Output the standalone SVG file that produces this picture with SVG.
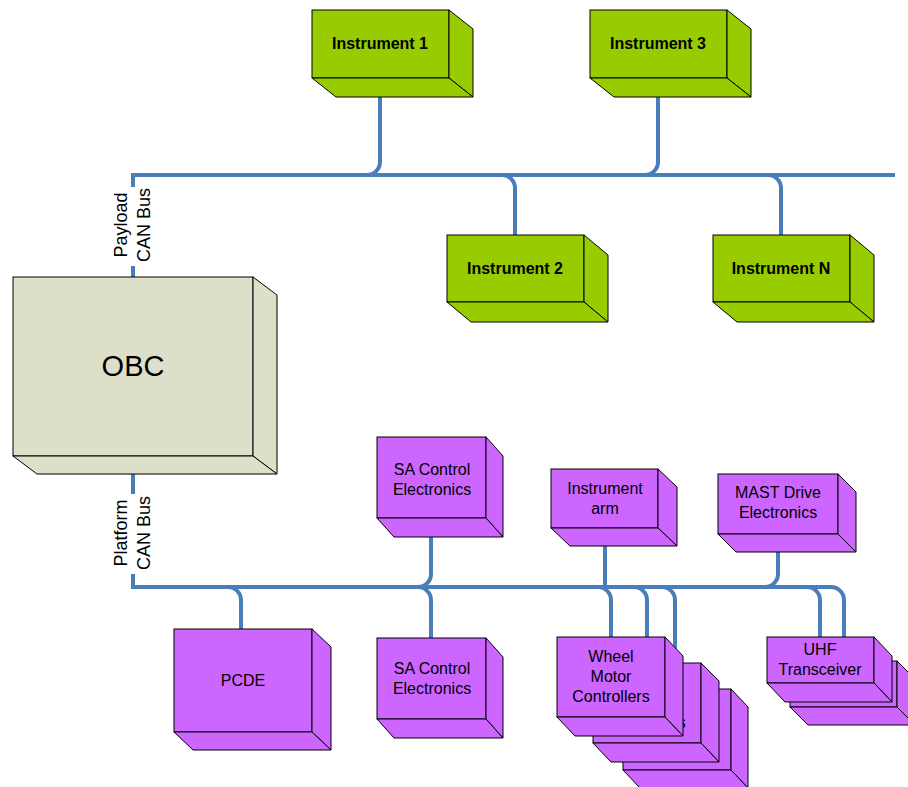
<svg xmlns="http://www.w3.org/2000/svg" width="908" height="787" viewBox="0 0 908 787">
<style>
.bus{fill:none;stroke:#4a7ebb;stroke-width:4}
.g{fill:#99cc00;stroke:#000;stroke-width:1}
.p{fill:#cc66ff;stroke:#000;stroke-width:1}
.o{fill:#dddfc9;stroke:#000;stroke-width:1}
.t{font-family:"Liberation Sans",Arial,sans-serif;font-size:16px;fill:#000;text-anchor:middle}
.tb{font-family:"Liberation Sans",Arial,sans-serif;font-size:16px;font-weight:bold;fill:#000;text-anchor:middle}
.lbl{font-family:"Liberation Sans",Arial,sans-serif;font-size:18px;fill:#000;text-anchor:middle}
</style>
<rect width="908" height="787" fill="#fff"/>
<g id="connectors">
<path class="bus" d="M133,187 V175 H895"/>
<path class="bus" d="M133,266 V277"/>
<path class="bus" d="M380,78 V162 A13,13 0 0 1 367,175"/>
<path class="bus" d="M658,78 V162 A13,13 0 0 1 645,175"/>
<path class="bus" d="M502,175 A13,13 0 0 1 515,188 V235"/>
<path class="bus" d="M768,175 A13,13 0 0 1 781,188 V235"/>
<path class="bus" d="M133,474 V494"/>
<path class="bus" d="M133,574 V587 H831"/>
<path class="bus" d="M228,587 A13,13 0 0 1 241,600 V629"/>
<path class="bus" d="M431,518 V574 A13,13 0 0 1 418,587"/>
<path class="bus" d="M418,587 A13,13 0 0 1 431,600 V638"/>
<path class="bus" d="M605,528 V587"/>
<path class="bus" d="M598,587 A13,13 0 0 1 611,600 V637"/>
<path class="bus" d="M634,587 A13,13 0 0 1 647,600 V663"/>
<path class="bus" d="M662,587 A13,13 0 0 1 675,600 V689"/>
<path class="bus" d="M778,534 V574 A13,13 0 0 1 765,587"/>
<path class="bus" d="M807,587 A13,13 0 0 1 820,600 V637"/>
<path class="bus" d="M831,587 A13,13 0 0 1 844,600 V637"/>
</g>
<g id="payload-label">
<text class="lbl" transform="translate(127,225) rotate(-90)">Payload</text>
<text class="lbl" transform="translate(150,225) rotate(-90)">CAN Bus</text>
</g>
<g id="platform-label">
<text class="lbl" transform="translate(127,533) rotate(-90)">Platform</text>
<text class="lbl" transform="translate(150,533) rotate(-90)">CAN Bus</text>
</g>
<g id="instrument1">
<rect class="g" x="312" y="10" width="137" height="68"/>
<polygon class="g" points="449,10 473,29 473,97 449,78"/>
<polygon class="g" points="312,78 449,78 473,97 336,97"/>
<text class="tb" x="380" y="49">Instrument 1</text>
</g>
<g id="instrument3">
<rect class="g" x="590" y="10" width="137" height="68"/>
<polygon class="g" points="727,10 751,29 751,97 727,78"/>
<polygon class="g" points="590,78 727,78 751,97 614,97"/>
<text class="tb" x="658" y="49">Instrument 3</text>
</g>
<g id="instrument2">
<rect class="g" x="447" y="235" width="137" height="67"/>
<polygon class="g" points="584,235 608,255 608,322 584,302"/>
<polygon class="g" points="447,302 584,302 608,322 471,322"/>
<text class="tb" x="515" y="274">Instrument 2</text>
</g>
<g id="instrumentN">
<rect class="g" x="713" y="235" width="137" height="67"/>
<polygon class="g" points="850,235 874,255 874,322 850,302"/>
<polygon class="g" points="713,302 850,302 874,322 737,322"/>
<text class="tb" x="781" y="274">Instrument N</text>
</g>
<g id="obc">
<rect class="o" x="13" y="277" width="240" height="179"/>
<polygon class="o" points="253,277 277,295 277,474 253,456"/>
<polygon class="o" points="13,456 253,456 277,474 37,474"/>
<text class="t" x="133" y="376" style="font-size:29px">OBC</text>
</g>
<g id="sa-control-top">
<rect class="p" x="377" y="437" width="109" height="81"/>
<polygon class="p" points="486,437 503,456 503,537 486,518"/>
<polygon class="p" points="377,518 486,518 503,537 394,537"/>
<text class="t" x="432" y="475">SA Control</text>
<text class="t" x="432" y="495">Electronics</text>
</g>
<g id="instrument-arm">
<rect class="p" x="551" y="469" width="107" height="59"/>
<polygon class="p" points="658,469 677,487 677,546 658,528"/>
<polygon class="p" points="551,528 658,528 677,546 570,546"/>
<text class="t" x="605" y="494">Instrument</text>
<text class="t" x="605" y="514">arm</text>
</g>
<g id="mast-drive">
<rect class="p" x="718" y="474" width="120" height="60"/>
<polygon class="p" points="838,474 856,492 856,552 838,534"/>
<polygon class="p" points="718,534 838,534 856,552 736,552"/>
<text class="t" x="778" y="498">MAST Drive</text>
<text class="t" x="778" y="518">Electronics</text>
</g>
<g id="pcde">
<rect class="p" x="174" y="629" width="138" height="103"/>
<polygon class="p" points="312,629 331,647 331,750 312,732"/>
<polygon class="p" points="174,732 312,732 331,750 193,750"/>
<text class="t" x="243" y="686">PCDE</text>
</g>
<g id="sa-control-bottom">
<rect class="p" x="377" y="638" width="109" height="81"/>
<polygon class="p" points="486,638 503,657 503,738 486,719"/>
<polygon class="p" points="377,719 486,719 503,738 394,738"/>
<text class="t" x="432" y="674">SA Control</text>
<text class="t" x="432" y="694">Electronics</text>
</g>
<g id="wheel-motor-3">
<rect class="p" x="623" y="689" width="108" height="81"/>
<polygon class="p" points="731,689 748,707 748,788 731,770"/>
<polygon class="p" points="623,770 731,770 748,788 640,788"/>
</g>
<g id="wheel-motor-2">
<rect class="p" x="593" y="663" width="108" height="80"/>
<polygon class="p" points="701,663 719,681 719,762 701,743"/>
<polygon class="p" points="593,743 701,743 719,762 611,762"/>
<text class="t" x="647" y="728">Controllers</text>
</g>
<g id="wheel-motor-1">
<rect class="p" x="557" y="637" width="108" height="80"/>
<polygon class="p" points="665,637 683,656 683,736 665,717"/>
<polygon class="p" points="557,717 665,717 683,736 575,736"/>
<text class="t" x="611" y="662">Wheel</text>
<text class="t" x="611" y="682">Motor</text>
<text class="t" x="611" y="702">Controllers</text>
</g>
<g id="uhf-2">
<rect class="p" x="790" y="661" width="107" height="46"/>
<polygon class="p" points="897,661 915,679 915,725 897,707"/>
<polygon class="p" points="790,707 897,707 915,725 808,725"/>
</g>
<g id="uhf-1">
<rect class="p" x="767" y="637" width="107" height="46"/>
<polygon class="p" points="874,637 892,656 892,702 874,683"/>
<polygon class="p" points="767,683 874,683 892,702 785,702"/>
<text class="t" x="820" y="655">UHF</text>
<text class="t" x="820" y="675">Transceiver</text>
</g>
</svg>
